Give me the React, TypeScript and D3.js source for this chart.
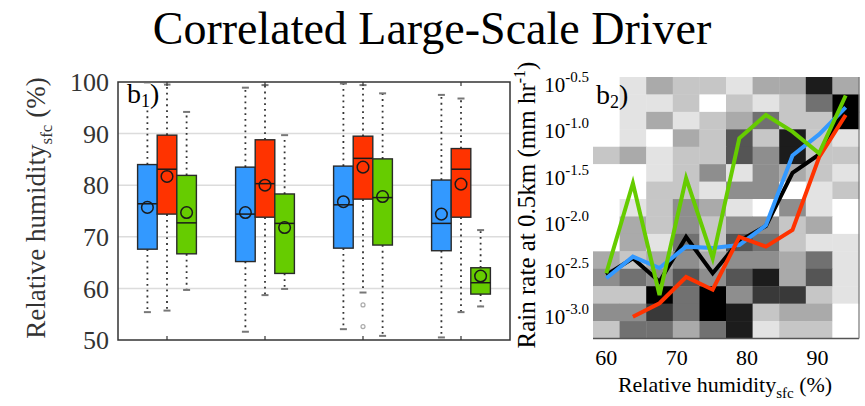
import React from "react";
import * as d3 from "d3";

// ---------- Data ----------
const title = "Correlated Large-Scale Driver";
const groups = ["G1", "G2", "G3", "G4"];
const boxSeries = ["blue", "red", "green"];
const boxColors = ["#3399ff", "#ff3300", "#66cc00"];

// stats per group: [whiskerLow, q1, median, q3, whiskerHigh, mean]
const blueStats = [
  [55.4, 67.6, 76.4, 84.0, 99.5, 75.7],
  [51.6, 65.2, 74.4, 83.5, 98.9, 74.7],
  [52.1, 67.8, 76.2, 83.7, 99.7, 76.8],
  [50.5, 67.3, 72.6, 81.0, 97.5, 74.4],
];
const redStats = [
  [55.7, 74.4, 83.1, 89.7, 99.5, 81.7],
  [58.7, 73.8, 80.3, 88.8, 99.4, 80.0],
  [59.2, 77.3, 85.2, 89.5, 99.4, 83.5],
  [55.4, 73.8, 83.1, 87.1, 96.8, 80.2],
];
const greenStats = [
  [59.7, 66.7, 72.7, 81.9, 94.2, 74.7],
  [59.9, 62.9, 72.6, 78.3, 89.7, 71.8],
  [50.8, 68.4, 77.6, 85.1, 97.8, 77.8],
  [56.5, 58.9, 61.1, 64.0, 71.3, 62.4],
];
// outliers: [groupIndex, seriesIndex, value]
const outliers = [
  [2, 1, 56.8],
  [2, 1, 52.6],
];
const rhTicks = [50, 60, 70, 80, 90, 100];
const rhGrid = [60, 70, 80, 90];

// right panel
const rhCenters = [59.99, 63.77, 67.55, 71.33, 75.11, 78.89, 82.67, 86.45, 90.23, 94.01];
const rhBinWidth = 3.78;
const logRainTop = -0.414;
const logRainBottom = -3.232;
const nRainBins = 15;
// frequency level per cell, rows from top (high rain) to bottom, columns = RH bins
const freqLevels = [
  [0, 1, 3, 2, 2, 1, 3, 3, 8, 3],
  [0, 1, 1, 2, 0, 2, 1, 2, 5, 9],
  [0, 1, 3, 1, 2, 3, 5, 2, 2, 9],
  [0, 1, 0, 3, 2, 6, 2, 8, 2, 1],
  [2, 3, 1, 2, 2, 6, 4, 8, 2, 2],
  [0, 0, 1, 2, 4, 1, 4, 3, 2, 1],
  [0, 0, 2, 2, 1, 4, 4, 0, 1, 2],
  [0, 1, 2, 4, 3, 1, 0, 4, 1, 0],
  [0, 3, 2, 4, 2, 4, 4, 2, 3, 0],
  [0, 3, 1, 5, 2, 6, 5, 2, 1, 1],
  [3, 2, 3, 4, 3, 4, 4, 3, 5, 1],
  [4, 5, 4, 6, 4, 6, 8, 3, 6, 1],
  [2, 2, 9, 5, 9, 4, 7, 7, 2, 1],
  [4, 4, 7, 5, 9, 8, 2, 3, 3, 0],
  [2, 5, 5, 3, 5, 8, 1, 2, 2, 0],
];
// log10 rain rate per RH bin
const blackLine = [-2.547, -2.367, -2.62, -2.138, -2.529, -2.181, -2.019, -1.448, -1.249, -0.759];
const blueLine = [-2.583, -2.35, -2.472, -2.242, -2.256, -2.224, -2.012, -1.26, -1.033, -0.742];
const redLine = [null, -2.997, -2.852, -2.569, -2.706, -2.138, -2.242, -2.063, -1.279, -0.823];
const greenLine = [-2.529, -1.559, -2.763, -1.505, -2.367, -1.074, -0.823, -1.003, -1.236, -0.613];
const rainTicks = [-0.5, -1.0, -1.5, -2.0, -2.5, -3.0];
const rhTicksR = [60, 70, 80, 90];

const FONT = "'Liberation Serif', 'Times New Roman', Times, serif";

export default function App() {
  const W = 865, H = 406;
  // left panel scales
  const yRH = d3.scaleLinear().domain([50, 100]).range([340, 82]);
  const xG = d3.scaleBand().domain(groups).range([118, 510]).padding(0);
  const bw = xG.bandwidth() / 5;
  const allStats = [blueStats, redStats, greenStats];

  // right panel scales
  const xR = d3.scaleLinear().domain([58.1, 95.9]).range([593, 859]);
  const yR = d3.scaleLinear().domain([logRainBottom, logRainTop]).range([338.5, 77]);
  const rowStep = (logRainTop - logRainBottom) / nRainBins;
  const gray = d3.scaleLinear<string>().domain([0, 9]).range(["#ffffff", "#000000"]);

  const lineGen = d3
    .line<[number, number | null]>()
    .defined((d) => d[1] !== null)
    .x((d) => xR(d[0]))
    .y((d) => yR(d[1] as number));

  const lines = [
    { data: blackLine, color: "#000000" },
    { data: blueLine, color: "#3399ff" },
    { data: redLine, color: "#ff3300" },
    { data: greenLine, color: "#66cc00" },
  ];

  return (
    <svg width={W} height={H} style={{ display: "block", position: "absolute", left: 0, top: 0, fontFamily: FONT }}>
      <rect width={W} height={H} fill="#fff" />
      <text x={432} y={44} fontSize={46} textAnchor="middle" fill="#000">
        {title}
      </text>

      {/* ---------- Left panel ---------- */}
      {rhGrid.map((v) => (
        <line key={"g" + v} x1={118} x2={510} y1={yRH(v)} y2={yRH(v)} stroke="#dcdcdc" strokeWidth={1.5} />
      ))}
      {groups.map((g, gi) => {
        const cx = (xG(g) as number) + xG.bandwidth() / 2;
        return allStats.map((st, si) => {
          const s = st[gi];
          const x = cx + (si - 1) * bw;
          return (
            <g key={g + si}>
              <line x1={x} x2={x} y1={yRH(s[3])} y2={yRH(s[4])} stroke="#333" strokeWidth={1.8} strokeDasharray="1.8,4" />
              <line x1={x} x2={x} y1={yRH(s[1])} y2={yRH(s[0])} stroke="#333" strokeWidth={1.8} strokeDasharray="1.8,4" />
              <line x1={x - 3.5} x2={x + 3.5} y1={yRH(s[4])} y2={yRH(s[4])} stroke="#777" strokeWidth={2} />
              <line x1={x - 3.5} x2={x + 3.5} y1={yRH(s[0])} y2={yRH(s[0])} stroke="#777" strokeWidth={2} />
            </g>
          );
        });
      })}
      {outliers.map((o, i) => {
        const cx = (xG(groups[o[0]]) as number) + xG.bandwidth() / 2 + (o[1] - 1) * bw;
        return <circle key={"o" + i} cx={cx} cy={yRH(o[2])} r={2} fill="none" stroke="#aaa" strokeWidth={1.2} />;
      })}
      {groups.map((g, gi) => {
        const cx = (xG(g) as number) + xG.bandwidth() / 2;
        return allStats.map((st, si) => {
          const s = st[gi];
          const x = cx + (si - 1) * bw;
          return (
            <g key={"b" + g + si}>
              <rect
                x={x - bw / 2}
                y={yRH(s[3])}
                width={bw}
                height={yRH(s[1]) - yRH(s[3])}
                fill={boxColors[si]}
                stroke="#2a2a2a"
                strokeWidth={1.4}
              />
              <line x1={x - bw / 2} x2={x + bw / 2} y1={yRH(s[2])} y2={yRH(s[2])} stroke="#1a1a1a" strokeWidth={1.5} />
              <circle cx={x} cy={yRH(s[5])} r={5.8} fill="none" stroke="#1a1a1a" strokeWidth={1.5} />
            </g>
          );
        });
      })}
      {/* frame */}
      <rect x={118} y={82} width={392} height={258} fill="none" stroke="#333" strokeWidth={1.5} />
      {groups.map((g) => {
        const cx = (xG(g) as number) + xG.bandwidth() / 2;
        return (
          <g key={"t" + g}>
            <line x1={cx} x2={cx} y1={340} y2={336} stroke="#333" strokeWidth={1.2} />
            <line x1={cx} x2={cx} y1={82} y2={86} stroke="#333" strokeWidth={1.2} />
          </g>
        );
      })}
      {rhTicks.map((v) => (
        <text key={"yt" + v} x={109} y={yRH(v)} dy="0.35em" fontSize={26} textAnchor="end" fill="#333">
          {v}
        </text>
      ))}
      <text transform="translate(45,208) rotate(-90)" fontSize={27} textAnchor="middle" fill="#333">
        Relative humidity
        <tspan fontSize={17} dy={7}>sfc</tspan>
        <tspan dy={-7}> (%)</tspan>
      </text>
      {/* b1 label */}
      <rect x={121} y={84} width={43} height={24} fill="#fff" />
      <text x={127} y={103} fontSize={28} fill="#000">
        b<tspan fontSize={18} dy={4}>1</tspan>
        <tspan dy={-4}>)</tspan>
      </text>

      {/* ---------- Right panel ---------- */}
      {freqLevels.map((row, ri) =>
        row.map((lv, ci) => {
          const top = logRainTop - ri * rowStep;
          const bot = top - rowStep;
          return (
            <rect
              key={"c" + ri + "_" + ci}
              x={xR(rhCenters[ci] - rhBinWidth / 2)}
              y={yR(top)}
              width={xR(rhCenters[ci] + rhBinWidth / 2) - xR(rhCenters[ci] - rhBinWidth / 2) + 0.4}
              height={yR(bot) - yR(top) + 0.4}
              fill={gray(lv)}
            />
          );
        })
      )}
      {lines.map((l, i) => (
        <path
          key={"l" + i}
          d={lineGen(rhCenters.map((x, k) => [x, l.data[k]] as [number, number | null])) || ""}
          fill="none"
          stroke={l.color}
          strokeWidth={4}
          strokeLinejoin="miter"
        />
      ))}
      <line x1={593} x2={859} y1={338.5} y2={338.5} stroke="#555" strokeWidth={1.5} />
      <line x1={859} x2={859} y1={77} y2={338.5} stroke="#777" strokeWidth={1.2} />
      {rainTicks.map((v) => (
        <text key={"rt" + v} x={589} y={yR(v) + 7} fontSize={21} textAnchor="end" fill="#000">
          10
          <tspan fontSize={15} dy={-10}>
            {v.toFixed(1)}
          </tspan>
        </text>
      ))}
      <text transform="translate(535,205) rotate(-90)" fontSize={25} textAnchor="middle" fill="#000">
        Rain rate at 0.5km (mm hr
        <tspan fontSize={16} dy={-10}>-1</tspan>
        <tspan dy={10}>)</tspan>
      </text>
      {rhTicksR.map((v) => (
        <text key={"xt" + v} x={xR(v)} y={365} fontSize={22} textAnchor="middle" fill="#000">
          {v}
        </text>
      ))}
      <text x={725} y={392} fontSize={22} textAnchor="middle" fill="#000">
        Relative humidity
        <tspan fontSize={15} dy={6}>sfc</tspan>
        <tspan dy={-6}> (%)</tspan>
      </text>
      <text x={596} y={104} fontSize={28} fill="#000">
        b<tspan fontSize={18} dy={4}>2</tspan>
        <tspan dy={-4}>)</tspan>
      </text>
    </svg>
  );
}
